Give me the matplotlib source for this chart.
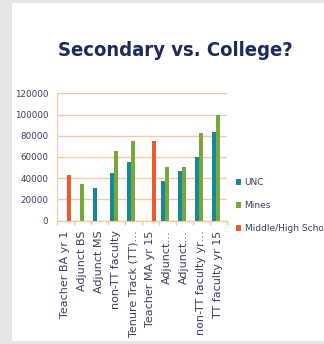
import numpy as np
import matplotlib
matplotlib.use("Agg")
import matplotlib.pyplot as plt
from matplotlib.patches import Rectangle, Patch

# Salary comparison data
categories = ["Teacher BA yr 1", "Adjunct BS", "Adjunct MS", "non-TT faculty",
              "Tenure Track (TT)\u2026", "Teacher MA yr 15", "Adjunct\u2026",
              "Adjunct\u2026", "non-TT faculty yr\u2026", "TT faculty yr 15"]
unc = [np.nan, np.nan, 31000, 45000, 55000, np.nan, 37500, 47000, 60000, 84000]
mines = [np.nan, 35000, np.nan, 65500, 75500, np.nan, 51000, 51000, 82500, 100000]
school = [43000, np.nan, np.nan, np.nan, np.nan, 75500, np.nan, np.nan, np.nan, np.nan]
series_names = ["UNC", "Mines", "Middle/High School"]
yticks = [0, 20000, 40000, 60000, 80000, 100000, 120000]

c_unc = "#17889a"
c_mines = "#78a83b"
c_school = "#ee5a2c"
c_grid = "#f4cba6"
c_text = "#3c3f5c"

W, H = 324, 344
fig = plt.figure(figsize=(W / 100, H / 100), dpi=100)
fig.patch.set_facecolor("white")

# window frame around the slide
fig.add_artist(Rectangle((0, 0), 12 / W, 1, transform=fig.transFigure,
                         facecolor="#e6e6e6", edgecolor="none", zorder=0))
fig.add_artist(Rectangle((0, 1 - 3 / H), 1, 3 / H, transform=fig.transFigure,
                         facecolor="#e6e6e6", edgecolor="none", zorder=0))
fig.add_artist(Rectangle((0, 0), 1, 3 / H, transform=fig.transFigure,
                         facecolor="#e6e6e6", edgecolor="none", zorder=0))

fig.text(175 / W, 1 - 51 / H, "Secondary vs. College?", ha="center", va="center",
         fontsize=14.5, fontweight="bold", fontstretch="condensed",
         color="#1c2b5e", family="DejaVu Sans")

ax = fig.add_axes([56.5 / W, 1 - 220.7 / H, 170 / W, 127.4 / H])
x = np.arange(len(categories))
bw = 0.225
off = 0.235
ax.bar(x - off, unc, bw, color=c_unc, zorder=3)
ax.bar(x, mines, bw, color=c_mines, zorder=3)
ax.bar(x + off, school, bw, color=c_school, zorder=3)

ax.set_xlim(-0.5, len(categories) - 0.5)
ax.set_ylim(0, 120000)
ax.set_yticks(yticks)
ax.set_yticklabels([str(v) for v in yticks])
ax.yaxis.grid(True, color=c_grid, linewidth=1.0, zorder=0)
ax.set_axisbelow(True)

ax.set_xticks(x)
ax.set_xticklabels(categories, rotation=90, va="top", ha="center")
ax.set_xticks(np.arange(-0.5, len(categories), 1.0), minor=True)
ax.tick_params(axis="x", which="major", length=0, pad=7, labelsize=8.0,
               labelcolor=c_text)
ax.tick_params(axis="x", which="minor", length=3, color=c_grid, width=1)
ax.tick_params(axis="y", length=0, pad=6, labelsize=6.3, labelcolor=c_text)

for s in ["top", "right"]:
    ax.spines[s].set_visible(False)
ax.spines["left"].set_color(c_grid)
ax.spines["bottom"].set_color(c_grid)
ax.spines["left"].set_linewidth(0.8)
ax.spines["bottom"].set_linewidth(1.0)

handles = [Patch(facecolor=c, edgecolor="none") for c in (c_unc, c_mines, c_school)]
fig.legend(handles, series_names, loc="upper left",
           bbox_to_anchor=(236 / W, 1 - 178 / H), frameon=False,
           fontsize=6.5, labelcolor=c_text, handlelength=0.6, handleheight=0.6,
           handletextpad=0.35, labelspacing=1.55, borderaxespad=0, borderpad=0)

fig.savefig("out.png", dpi=100, facecolor="white")
